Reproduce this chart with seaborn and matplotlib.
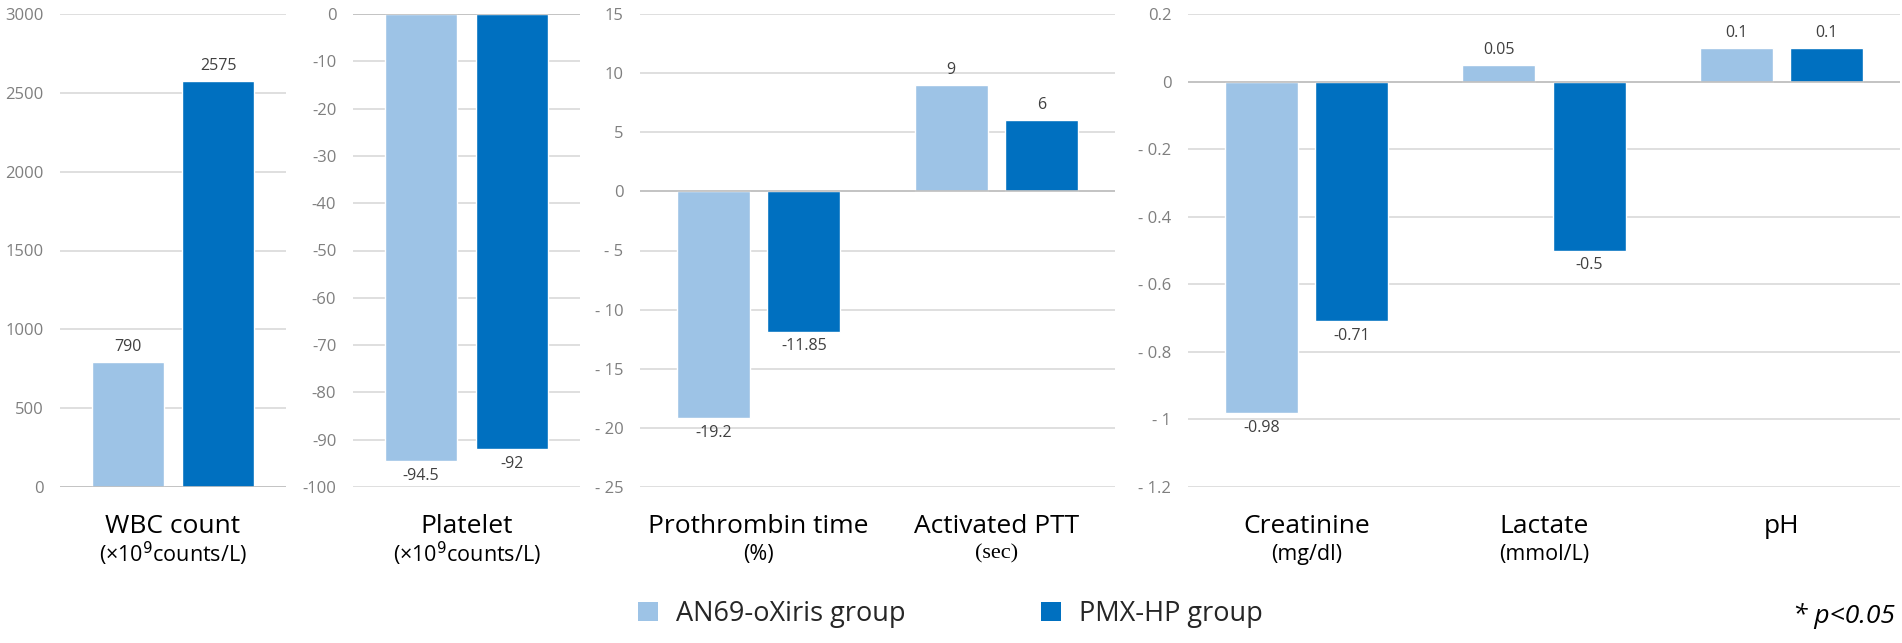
import numpy as np
import pandas as pd
import matplotlib
matplotlib.use("Agg")
import matplotlib.pyplot as plt
from matplotlib.patches import Patch
from matplotlib.ticker import MultipleLocator, FuncFormatter
import seaborn as sns

# ==========================================
# Data (change from baseline)
# ==========================================

groups = ["AN69-oXiris group", "PMX-HP group"]
colors = ["#9DC3E6", "#0070C0"]

wbc_cat = ["WBC count"]
wbc_oxiris = [790]
wbc_pmx = [2575]

plt_cat = ["Platelet"]
plt_oxiris = [-94.5]
plt_pmx = [-92]

coag_cat = ["Prothrombin time", "Activated PTT"]
coag_oxiris = [-19.2, 9]
coag_pmx = [-11.85, 6]

chem_cat = ["Creatinine", "Lactate", "pH"]
chem_oxiris = [-0.98, 0.05, 0.1]
chem_pmx = [-0.71, -0.5, 0.1]

units = {
    "WBC count": "(\u00d710$^9$counts/L)",
    "Platelet": "(\u00d710$^9$counts/L)",
    "Prothrombin time": "(%)",
    "Activated PTT": "(sec)",
    "Creatinine": "(mg/dl)",
    "Lactate": "(mmol/L)",
    "pH": "",
}


def make_df(cats, a, b):
    return pd.DataFrame({
        "param": cats * 2,
        "group": [groups[0]] * len(cats) + [groups[1]] * len(cats),
        "value": list(a) + list(b),
    })


# ==========================================
# Figure
# ==========================================

sns.set_theme(style="white")
plt.rcParams["font.family"] = ["Open Sans", "DejaVu Sans"]

W, H = 1902, 643
fig = plt.figure(figsize=(W / 100, H / 100), dpi=100)

top_px, bot_px = 14, 487


def add_ax(x0, x1):
    return fig.add_axes([x0 / W, 1 - bot_px / H, (x1 - x0) / W, (bot_px - top_px) / H])


panels = [
    (add_ax(60, 286), make_df(wbc_cat, wbc_oxiris, wbc_pmx), (0, 3000), 500, False, 0.80, 0.20),
    (add_ax(353, 580), make_df(plt_cat, plt_oxiris, plt_pmx), (-100, 0), 10, False, 0.80, 0.20),
    (add_ax(640, 1115), make_df(coag_cat, coag_oxiris, coag_pmx), (-25, 15), 5, True, 0.76, 0.19),
    (add_ax(1188, 1900), make_df(chem_cat, chem_oxiris, chem_pmx), (-1.2, 0.2), 0.2, True, 0.76, 0.19),
]


def spaced_fmt(v, _):
    v = round(v, 3)
    if v < 0:
        return "- " + f"{abs(v):g}"
    return f"{v:g}"


for ax, df, ylim, step, spaced, width, gap in panels:
    sns.barplot(data=df, x="param", y="value", hue="group", palette=colors,
                width=width, gap=gap, ax=ax, legend=False, saturation=1)
    ax.set_ylim(*ylim)
    ax.yaxis.set_major_locator(MultipleLocator(step))
    if spaced:
        ax.yaxis.set_major_formatter(FuncFormatter(spaced_fmt))
    else:
        ax.yaxis.set_major_formatter(FuncFormatter(lambda v, _: f"{round(v, 3):g}"))
    ax.grid(axis="y", color="#D9D9D9", linewidth=1.2)
    ax.set_axisbelow(True)
    ax.axhline(0, color="#BFBFBF", linewidth=1.2, zorder=1)
    for s in ax.spines.values():
        s.set_visible(False)
    ax.tick_params(axis="y", length=0, pad=12, labelsize=12, labelcolor="#7F7F7F")
    ax.tick_params(axis="x", length=0, labelbottom=False)
    ax.set_xlabel("")
    ax.set_ylabel("")

    for cont in ax.containers:
        ax.bar_label(cont, fmt="{:g}", padding=5, fontsize=11.5, color="#404040")

    # category labels with units underneath
    cats = list(dict.fromkeys(df["param"]))
    for i, c in enumerate(cats):
        ax.text(i, -0.083, c, transform=ax.get_xaxis_transform(),
                ha="center", va="center", fontsize=19, color="black")
        if c == "Activated PTT":
            ax.text(i, -0.142, units[c], transform=ax.get_xaxis_transform(),
                    ha="center", va="center", fontsize=16, color="black",
                    family=["Liberation Serif", "DejaVu Serif"])
        else:
            ax.text(i, -0.142, units[c], transform=ax.get_xaxis_transform(),
                    ha="center", va="center", fontsize=15.5, color="black")

# ==========================================
# Legend and note
# ==========================================

handles = [Patch(facecolor=colors[0], edgecolor="none"),
           Patch(facecolor=colors[1], edgecolor="none")]
fig.legend(handles, groups, loc="center left", bbox_to_anchor=(638 / W, 1 - 614 / H),
           ncol=2, frameon=False, fontsize=19.5, handlelength=0.75, handleheight=0.75,
           handletextpad=0.65, columnspacing=5.0, borderpad=0, borderaxespad=0)

fig.text(1895 / W, 1 - 616 / H, "* p<0.05", ha="right", va="center",
         fontsize=19, style="italic", color="black")

fig.savefig("out.png", dpi=100)
